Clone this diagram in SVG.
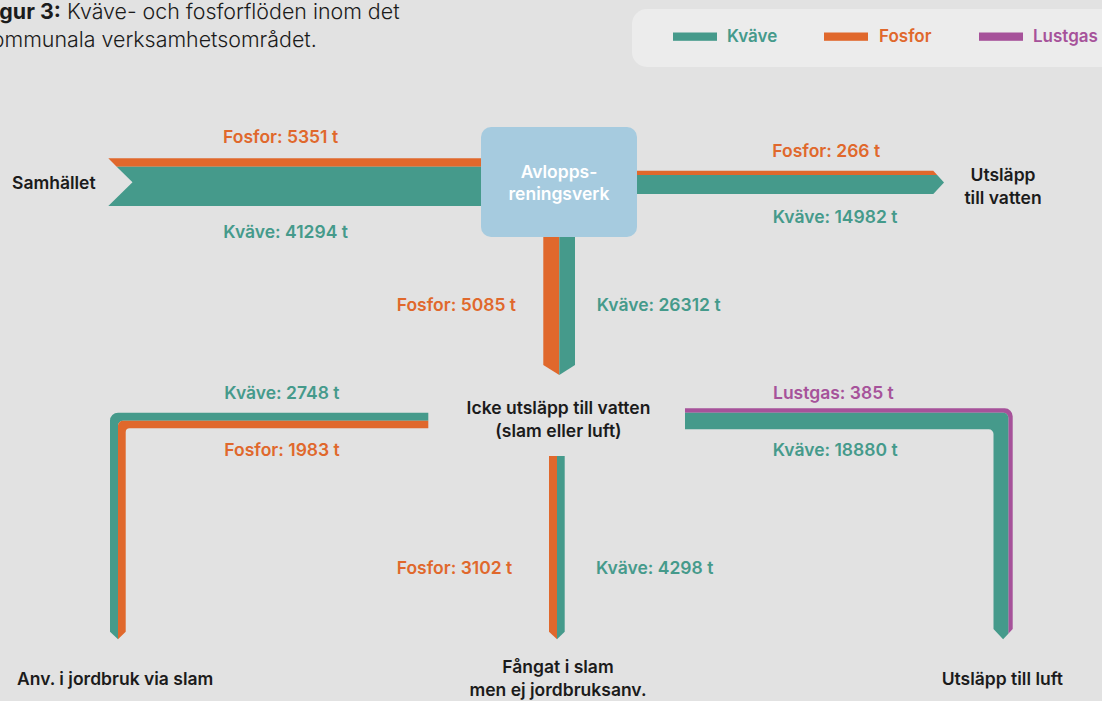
<svg xmlns="http://www.w3.org/2000/svg" width="1102" height="701" viewBox="0 0 1102 701">
<style>
text{font-family:Inter,"Liberation Sans",sans-serif;}
.lbl{font-size:17.5px;font-weight:600;}
.blk{fill:#1b1b1b;}
.n{fill:#459a8b;}
.p{fill:#e0682c;}
.g{fill:#a6529a;}
.ttl{font-size:21.4px;font-weight:300;fill:#1b1b1b;}
.leg{font-size:17px;font-weight:600;}
.wt{fill:#ffffff;}
</style>
<rect x="0" y="0" width="1102" height="701" fill="#e2e2e2"/>
<g id="title">
<text class="ttl" x="-19" y="18.5"><tspan font-weight="700">Figur 3:</tspan> Kväve- och fosforflöden inom det</text>
<text class="ttl" x="-19" y="46.5">kommunala verksamhetsområdet.</text>
</g>
<g id="legend">
<rect x="632" y="9" width="500" height="58" rx="15" fill="#ececec"/>
<rect class="n" x="673" y="32.5" width="44" height="8.3"/>
<text class="leg n" x="727" y="42">Kväve</text>
<rect class="p" x="824" y="32.5" width="44" height="8.3"/>
<text class="leg p" x="879" y="42">Fosfor</text>
<rect class="g" x="979" y="32.5" width="44" height="8.3"/>
<text class="leg g" x="1033" y="42">Lustgas</text>
</g>
<g id="connectors">
<path class="p" d="M108.3,158.3 H485 V166.7 H116.7 Z"/>
<path class="n" d="M116.7,166.7 H485 V206 H108.3 L132.5,182.2 Z"/>
<path class="p" d="M632,170.7 H933.3 L937.2,175 H632 Z"/>
<path class="n" d="M632,175 H937.2 L944,182.4 L933.3,194 H632 Z"/>
<path class="p" d="M543.3,232 H559.3 V375 L543.3,365 Z"/>
<path class="n" d="M559.3,232 H575 V365 L559.3,375 Z"/>
<path class="n" d="M428.3,412.7 H118 A8,8 0 0 0 110,420.7 V631.7 L118,639.3 V425.7 A5,5 0 0 1 123,420.7 H428.3 Z"/>
<path class="p" d="M428.3,420.7 H123 A5,5 0 0 0 118,425.7 V639.3 L125.7,631.7 V432.3 A4,4 0 0 1 129.7,428.3 H428.3 Z"/>
<path class="g" d="M685,408.3 H1004.7 A8,8 0 0 1 1012.7,416.3 V629 L1008.3,633.7 V417.7 A5,5 0 0 0 1003.3,412.7 H685 Z"/>
<path class="n" d="M685,412.7 H1003.3 A5,5 0 0 1 1008.3,417.7 V633.7 L1003.1,639.3 L993.5,629 V434 A4.7,4.7 0 0 0 988.8,429.3 H685 Z"/>
<path class="p" d="M549,456 H557 V639.3 L549,631.7 Z"/>
<path class="n" d="M557,456 H564.7 V631.7 L557,639.3 Z"/>
</g>
<g id="avlopp">
<rect x="481" y="127" width="156" height="110" rx="10" fill="#a6cbdf"/>
<text class="lbl wt" x="559" y="177.5" text-anchor="middle">Avlopps-</text>
<text class="lbl wt" x="559" y="200" text-anchor="middle">reningsverk</text>
</g>
<g id="samhallet"><text class="lbl blk" x="12" y="189">Samhället</text></g>
<g id="utslapp-vatten">
<text class="lbl blk" x="1003" y="181" text-anchor="middle">Utsläpp</text>
<text class="lbl blk" x="1003" y="204" text-anchor="middle">till vatten</text>
</g>
<g id="icke-utslapp">
<text class="lbl blk" x="558.5" y="414.3" text-anchor="middle">Icke utsläpp till vatten</text>
<text class="lbl blk" x="558.5" y="437" text-anchor="middle">(slam eller luft)</text>
</g>
<g id="jordbruk"><text class="lbl blk" x="17" y="685">Anv. i jordbruk via slam</text></g>
<g id="fangat">
<text class="lbl blk" x="558" y="673" text-anchor="middle">Fångat i slam</text>
<text class="lbl blk" x="558" y="695.5" text-anchor="middle">men ej jordbruksanv.</text>
</g>
<g id="utslapp-luft"><text class="lbl blk" x="941.7" y="685">Utsläpp till luft</text></g>
<g id="labels">
<text class="lbl p" x="223" y="142.7">Fosfor: 5351 t</text>
<text class="lbl n" x="223.3" y="238.3">Kväve: 41294 t</text>
<text class="lbl p" x="772.3" y="156.7">Fosfor: 266 t</text>
<text class="lbl n" x="772.7" y="222.7">Kväve: 14982 t</text>
<text class="lbl p" x="396.7" y="311">Fosfor: 5085 t</text>
<text class="lbl n" x="596.7" y="311">Kväve: 26312 t</text>
<text class="lbl n" x="224.3" y="399">Kväve: 2748 t</text>
<text class="lbl p" x="224.3" y="456">Fosfor: 1983 t</text>
<text class="lbl g" x="773" y="399">Lustgas: 385 t</text>
<text class="lbl n" x="772.7" y="456">Kväve: 18880 t</text>
<text class="lbl p" x="396.7" y="574">Fosfor: 3102 t</text>
<text class="lbl n" x="596" y="574">Kväve: 4298 t</text>
</g>
</svg>
